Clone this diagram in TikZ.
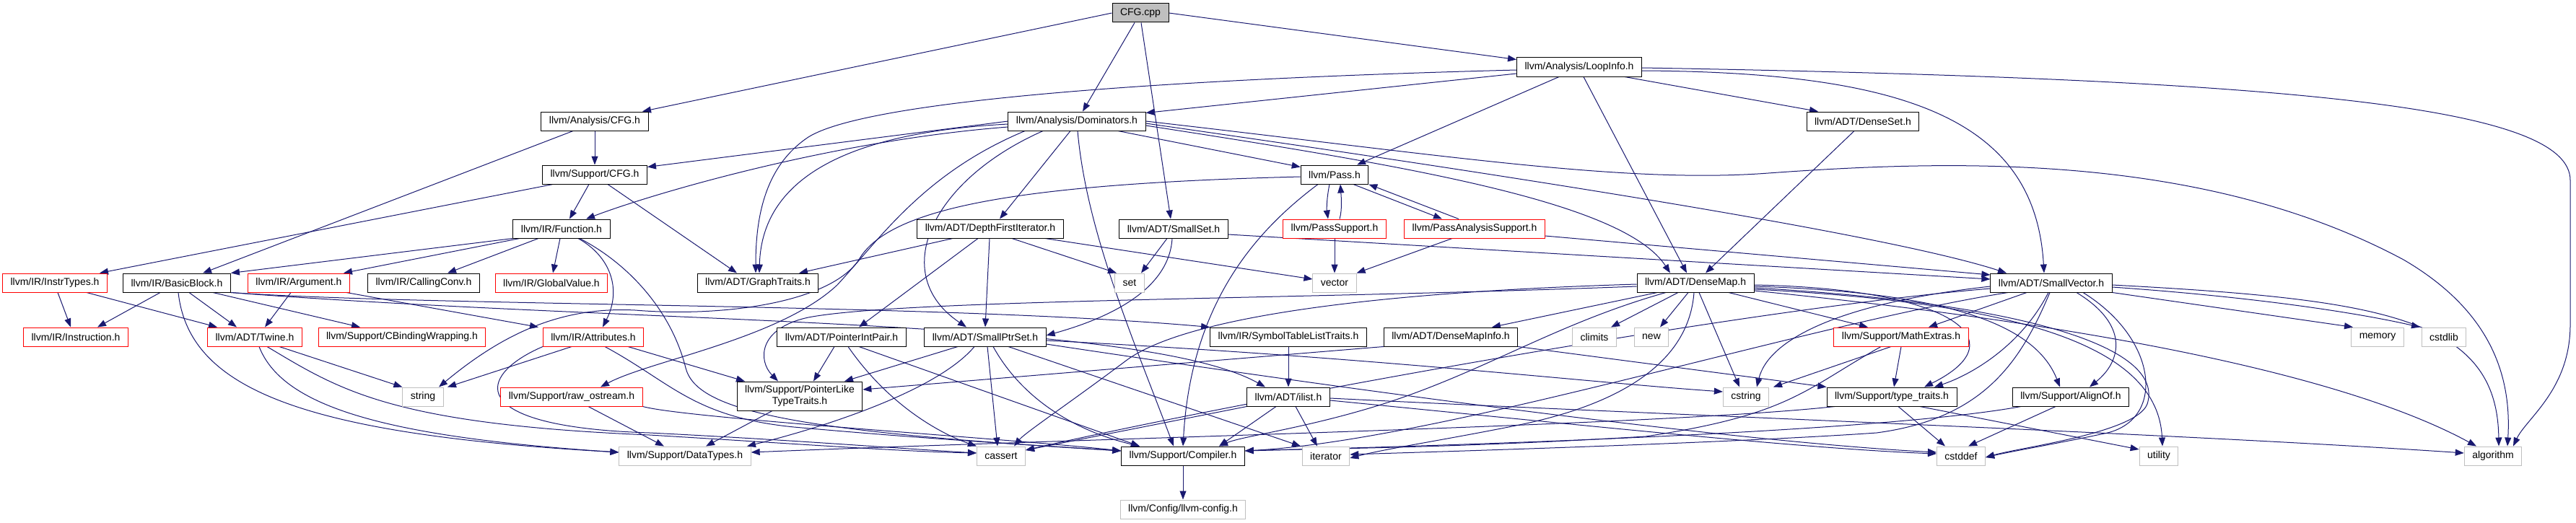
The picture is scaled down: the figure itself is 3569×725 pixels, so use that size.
\documentclass[tikz,border=0pt]{standalone}
\usepackage{fontspec}
\setmainfont{Liberation Sans}
\usetikzlibrary{arrows.meta,backgrounds}
\definecolor{edgeblue}{HTML}{191970}
\definecolor{grey75}{HTML}{BFBFBF}
\tikzset{
  box/.style={draw=black,fill=white,line width=1pt,inner xsep=11pt,inner ysep=0pt,minimum height=26pt,font=\fontsize{14}{16}\selectfont},
  redbox/.style={box,draw=red},
  sysbox/.style={box,draw=grey75},
  rootbox/.style={box,fill=grey75},
  edge/.style={edgeblue,line width=1pt,-{Triangle[length=12pt,width=9pt]}}
}
\begin{document}
\begin{tikzpicture}[x=1pt,y=-1pt]
\useasboundingbox (0,0) rectangle (3569,725);

\node[rootbox] (cpp) at (1580,18) {CFG.cpp};
\node[box] (acfg) at (824,168) {llvm/Analysis/CFG.h};
\node[box] (dom) at (1492,168) {llvm/Analysis/Dominators.h};
\node[box] (loop) at (2188,93) {llvm/Analysis/LoopInfo.h};
\node[box] (dset) at (2581,168) {llvm/ADT/DenseSet.h};
\node[box] (scfg) at (824,242) {llvm/Support/CFG.h};
\node[box] (pass) at (1849,242) {llvm/Pass.h};
\node[box] (func) at (778,317) {llvm/IR/Function.h};
\node[box] (dfi) at (1372,317) {llvm/ADT/DepthFirstIterator.h};
\node[box] (sset) at (1626,317) {llvm/ADT/SmallSet.h};
\node[redbox] (psup) at (1849,317) {llvm/PassSupport.h};
\node[redbox] (pas) at (2043,317) {llvm/PassAnalysisSupport.h};
\node[redbox] (itypes) at (76,392) {llvm/IR/InstrTypes.h};
\node[box] (bb) at (245,392) {llvm/IR/BasicBlock.h};
\node[redbox] (arg) at (414,392) {llvm/IR/Argument.h};
\node[box] (cc) at (587,392) {llvm/IR/CallingConv.h};
\node[redbox] (gv) at (764,392) {llvm/IR/GlobalValue.h};
\node[box] (gtr) at (1050,392) {llvm/ADT/GraphTraits.h};
\node[box] (dmap) at (2349,392) {llvm/ADT/DenseMap.h};
\node[box] (svec) at (2842,392) {llvm/ADT/SmallVector.h};
\node[redbox] (instr) at (105,467) {llvm/IR/Instruction.h};
\node[redbox] (twine) at (353,467) {llvm/ADT/Twine.h};
\node[redbox] (cbw) at (557,467) {llvm/Support/CBindingWrapping.h};
\node[redbox] (attr) at (822,467) {llvm/IR/Attributes.h};
\node[box] (pip) at (1166,467) {llvm/ADT/PointerIntPair.h};
\node[box] (sps) at (1365,467) {llvm/ADT/SmallPtrSet.h};
\node[box] (stlt) at (1785,467) {llvm/IR/SymbolTableListTraits.h};
\node[box] (dmi) at (2010,467) {llvm/ADT/DenseMapInfo.h};
\node[redbox] (mext) at (2634,467) {llvm/Support/MathExtras.h};
\node[redbox] (ros) at (792,550) {llvm/Support/raw\_ostream.h};
\node[box,align=center,minimum height=40pt] (pltt) at (1108,549) {llvm/Support/PointerLike\\TypeTraits.h};
\node[box] (ilist) at (1785,550) {llvm/ADT/ilist.h};
\node[box] (tt) at (2621,550) {llvm/Support/type\_traits.h};
\node[box] (align) at (2869,550) {llvm/Support/AlignOf.h};
\node[sysbox] (dtypes) at (949,632) {llvm/Support/DataTypes.h};
\node[box] (comp) at (1639,632) {llvm/Support/Compiler.h};
\node[sysbox] (config) at (1639,706) {llvm/Config/llvm-config.h};
\foreach \n/\x/\y in {set/1565/392,vector/1849/392,climits/2209/467,new/2288/467,memory/3294/467,cstdlib/3386/467,string/586/550,cstring/2419/550,cassert/1387/632,iterator/1837/632,cstddef/2717/632,utility/2991/632,algorithm/3454/632}
  \node[sysbox] (\n) at (\x,\y) {\n};

\begin{scope}[on background layer]
\draw[edge] (cpp.west) -- ([xshift=66pt]acfg.north);
\draw[edge] ([xshift=-8pt]cpp.south) -- ([xshift=8pt]dom.north);
\draw[edge] ([xshift=1pt]cpp.south) -- ([xshift=-4pt]sset.north);
\draw[edge] (cpp.east) -- ([yshift=-3pt]loop.north west);
\draw[edge] (acfg) -- (scfg);
\draw[edge] ([xshift=-30pt]acfg.south) -- ([xshift=36pt]bb.north);
\draw[edge] ([xshift=-8pt]scfg.south) -- ([xshift=11pt]func.north);
\draw[edge] ([xshift=-58pt]scfg.south) -- ([xshift=62pt]itypes.north);
\draw[edge] ([xshift=18pt]scfg.south) -- ([xshift=-29pt]gtr.north);
\draw[edge] (func.south west) -- (bb.north east);
\draw[edge] ([xshift=-58pt]func.south) -- ([xshift=62pt]arg.north);
\draw[edge] ([xshift=-32pt]func.south) -- ([xshift=33pt]cc.north);
\draw[edge] ([xshift=-2pt]func.south) -- ([xshift=2pt]gv.north);
\draw[edge] ([xshift=23pt]func.south) .. controls (845,355) and (862,400) .. ([xshift=13pt]attr.north);
\draw[edge] ([xshift=25pt]func.south) .. controls (870,365) and (930,430) .. (950,510) .. controls (965,570) and (1100,598) .. ([yshift=7pt]comp.west);
\draw[edge] ([xshift=4pt]itypes.south) -- ([xshift=-7pt]instr.north);
\draw[edge] ([xshift=44pt]itypes.south) -- ([xshift=-52pt]twine.north);
\draw[edge] ([xshift=-23pt]bb.south) -- ([xshift=30pt]instr.north);
\draw[edge] ([xshift=17pt]bb.south) -- ([xshift=-25pt]twine.north);
\draw[edge] ([xshift=50pt]bb.south) -- ([xshift=-58pt]cbw.north);
\draw[edge] ([xshift=2pt]bb.south) .. controls (262,540) and (420,602) .. ([yshift=5pt]dtypes.west);
\draw[edge] (bb.south east) .. controls (600,425) and (1300,420) .. (stlt.north west);
\draw[edge] (bb.south east) .. controls (900,450) and (1580,440) .. ([xshift=-32pt]ilist.north);
\draw[edge] ([xshift=-11pt]arg.south) -- ([xshift=14pt]twine.north);
\draw[edge] ([xshift=66pt]arg.south) -- ([xshift=-76pt]attr.north);
\draw[edge] ([xshift=34pt]twine.south) -- (string.north west);
\draw[edge] ([xshift=6pt]twine.south) .. controls (390,560) and (520,605) .. ([yshift=5pt]dtypes.west);
\draw[edge] ([xshift=17pt]twine.south) .. controls (470,540) and (540,588) .. (900,603) .. controls (1100,615) and (1250,626) .. ([yshift=4pt]cassert.west);
\draw[edge] ([xshift=-30pt]attr.south) -- ([xshift=34pt]string.north);
\draw[edge] ([xshift=48pt]attr.south) -- ([xshift=-76pt]pltt.north);
\draw[edge] ([xshift=-70pt]attr.south) .. controls (660,520) and (640,592) .. (900,600) .. controls (1100,610) and (1250,622) .. ([yshift=4pt]cassert.west);
\draw[edge] ([xshift=16pt]attr.south) .. controls (930,530) and (960,578) .. (1100,592) .. controls (1300,610) and (1450,618) .. ([yshift=7pt]comp.west);
\draw[edge] ([xshift=23pt]ros.south) -- ([xshift=-29pt]dtypes.north);
\draw[edge] (ros.south east) .. controls (950,580) and (1400,608) .. ([yshift=7pt]comp.west);
\draw[edge] (dom.west) -- ([yshift=-3pt]scfg.north east);
\draw[edge] ([yshift=-8pt]dom.west) .. controls (1150,195) and (900,270) .. ([xshift=34pt]func.north);
\draw[edge] ([yshift=-4pt]dom.west) .. controls (1150,185) and (1055,260) .. ([xshift=2pt]gtr.north);
\draw[edge] ([yshift=-4pt]loop.west) .. controls (1600,110) and (1200,140) .. (1120,190) .. controls (1060,230) and (1047,300) .. ([xshift=-3pt]gtr.north);
\draw[edge] ([xshift=-72pt]dom.south) .. controls (1280,240) and (1220,330) .. (1160,395) .. controls (1080,470) and (900,500) .. ([xshift=40pt]ros.north);
\draw[edge] ([xshift=-47pt]dom.south) .. controls (1290,250) and (1230,380) .. ([xshift=-26pt]sps.north);
\draw[edge] ([xshift=-9pt]dom.south) -- ([xshift=13pt]dfi.north);
\draw[edge] ([xshift=1pt]dom.south) .. controls (1505,320) and (1570,470) .. ([xshift=-13pt]comp.north);
\draw[edge] ([xshift=57pt]dom.south) -- ([yshift=-3pt]pass.north west);
\draw[edge] ([yshift=-6pt]dom.east) .. controls (1950,230) and (2250,280) .. ([xshift=-35pt]dmap.north);
\draw[edge] ([yshift=-3pt]dom.east) .. controls (2000,230) and (2600,320) .. ([xshift=-62pt]svec.north);
\draw[edge] (dom.east) .. controls (2000,215) and (2250,255) .. (2450,240) .. controls (2700,222) and (3050,210) .. (3330,360) .. controls (3450,430) and (3480,520) .. ([xshift=20pt]algorithm.north);
\draw[edge] ([yshift=-9pt]loop.west) -- ([yshift=-2pt]dom.north east);
\draw[edge] ([xshift=-28pt]loop.south) -- ([xshift=31pt]pass.north);
\draw[edge] ([xshift=6pt]loop.south) -- ([xshift=-12pt]dmap.north);
\draw[edge] ([xshift=63pt]loop.south) -- ([xshift=-62pt]dset.north);
\draw[edge] ([yshift=-5pt]loop.east) .. controls (2650,100) and (2820,170) .. ([xshift=-10pt]svec.north);
\draw[edge] ([yshift=-1pt]loop.east) .. controls (3200,110) and (3561,150) .. (3561,250) -- (3561,450) .. controls (3561,540) and (3500,580) .. ([xshift=28pt]algorithm.north);
\draw[edge] ([xshift=-12pt]dset.south) -- ([xshift=14pt]dmap.north);
\draw[edge] ([xshift=-7pt]pass.south) .. controls (1838,275) and (1838,290) .. ([xshift=-9pt]psup.north);
\draw[edge] ([xshift=7pt]psup.north) .. controls (1860,290) and (1858,270) .. ([xshift=8pt]pass.south);
\draw[edge] ([xshift=26pt]pass.south) -- ([xshift=-45pt]pas.north);
\draw[edge] ([xshift=-22pt]pas.north) -- (pass.south east);
\draw[edge] ([yshift=-3pt]pass.west) .. controls (1400,255) and (1230,290) .. (1190,360) .. controls (1150,420) and (1000,440) .. (880,430) .. controls (780,425) and (700,460) .. ([xshift=22pt]string.north);
\draw[edge] ([xshift=-23pt]pass.south) .. controls (1740,320) and (1650,420) .. (comp.north);
\draw[edge] ([xshift=-52pt]dfi.south) -- ([xshift=57pt]gtr.north);
\draw[edge] ([xshift=-17pt]dfi.south) -- ([xshift=24pt]pip.north);
\draw[edge] ([xshift=-1pt]dfi.south) -- (sps.north);
\draw[edge] ([xshift=30pt]dfi.south) -- ([xshift=-18pt]set.north);
\draw[edge] ([xshift=76pt]dfi.south) -- ([yshift=5pt]vector.west);
\draw[edge] ([xshift=-9pt]sset.south) -- ([xshift=16pt]set.north);
\draw[edge] ([xshift=-2pt]sset.south) .. controls (1620,400) and (1540,440) .. ([yshift=2pt]sps.east);
\draw[edge] ([yshift=-8pt]sset.east) -- ([yshift=5pt]svec.west);
\draw[edge] (psup) -- (vector);
\draw[edge] ([xshift=-31pt]pas.south) -- (vector.north east);
\draw[edge] ([yshift=-10pt]pas.east) -- ([yshift=11pt]svec.west);
\draw[edge] ([xshift=-53pt]dmap.south) -- ([xshift=57pt]dmi.north);
\draw[edge] ([xshift=-24pt]dmap.south) -- ([xshift=23pt]climits.north);
\draw[edge] ([xshift=-10pt]dmap.south) -- ([xshift=12pt]new.north);
\draw[edge] ([xshift=5pt]dmap.south) -- ([xshift=-9pt]cstring.north);
\draw[edge] ([xshift=46pt]dmap.south) -- ([xshift=-46pt]mext.north);
\draw[edge] ([yshift=-5pt]dmap.west) .. controls (1800,415) and (1250,415) .. (1120,440) .. controls (1050,455) and (1050,500) .. ([xshift=-30pt]pltt.north);
\draw[edge] ([xshift=-2pt]dmap.south) .. controls (2340,500) and (2250,560) .. (2100,590) .. controls (2000,610) and (1920,622) .. ([yshift=-3pt]iterator.east);
\draw[edge] ([yshift=-2pt]dmap.west) .. controls (1900,405) and (1640,440) .. (1560,500) .. controls (1480,560) and (1420,600) .. ([xshift=18pt]cassert.north);
\draw[edge] ([xshift=-41pt]dmap.south) .. controls (2150,450) and (2050,520) .. (1900,565) .. controls (1800,595) and (1720,605) .. ([xshift=50pt]comp.north);
\draw[edge] ([yshift=-3pt]dmap.east) .. controls (2700,400) and (2800,470) .. ([xshift=45pt]tt.north);
\draw[edge] ([yshift=-5pt]dmap.east) .. controls (2700,405) and (2820,450) .. ([xshift=-15pt]align.north);
\draw[edge] ([yshift=-7pt]dmap.east) .. controls (2800,420) and (3000,480) .. (2975,560) .. controls (2960,600) and (2800,620) .. ([yshift=-2pt]cstddef.east);
\draw[edge] ([yshift=-9pt]dmap.east) .. controls (2800,420) and (2990,480) .. ([xshift=5pt]utility.north);
\draw[edge] ([yshift=-11pt]dmap.east) .. controls (2900,450) and (3250,520) .. ([xshift=-23pt]algorithm.north);
\draw[edge] ([xshift=-34pt]svec.south) -- ([xshift=38pt]mext.north);
\draw[edge] ([yshift=-5pt]svec.west) .. controls (2550,420) and (2450,470) .. ([xshift=15pt]cstring.north);
\draw[edge] ([yshift=-8pt]svec.west) .. controls (2400,430) and (1700,560) .. ([yshift=8pt]cassert.east);
\draw[edge] ([xshift=-2pt]svec.south) .. controls (2800,500) and (2750,580) .. (2600,600) .. controls (2400,614) and (2000,626) .. ([yshift=2pt]iterator.east);
\draw[edge] ([xshift=-60pt]svec.south) .. controls (2500,450) and (2000,610) .. ([yshift=7pt]comp.east);
\draw[edge] ([xshift=44pt]svec.south) .. controls (2990,470) and (3000,580) .. (2920,600) .. controls (2850,615) and (2790,625) .. ([yshift=-2pt]cstddef.east);
\draw[edge] ([xshift=-4pt]svec.south) .. controls (2800,480) and (2730,520) .. ([xshift=59pt]tt.north);
\draw[edge] ([xshift=35pt]svec.south) .. controls (2950,450) and (2940,500) .. ([xshift=26pt]align.north);
\draw[edge] (svec.south east) -- ([xshift=-34pt]memory.north);
\draw[edge] ([yshift=-6pt]svec.east) .. controls (3100,410) and (3250,430) .. ([xshift=-33pt]cstdlib.north);
\draw[edge] ([yshift=-3pt]svec.east) .. controls (3300,415) and (3460,440) .. ([xshift=8pt]algorithm.north);
\draw[edge] ([xshift=-14pt]mext.south) -- ([xshift=38pt]cstring.north);
\draw[edge] (mext.south) -- ([xshift=3pt]tt.north);
\draw[edge] ([xshift=-28pt]mext.south) .. controls (2500,540) and (2480,575) .. (2280,605) .. controls (2000,622) and (1800,622) .. ([yshift=7pt]comp.east);
\draw[edge] ([xshift=-79pt]tt.south) .. controls (2300,590) and (1500,608) .. ([yshift=5pt]dtypes.east);
\draw[edge] ([xshift=9pt]tt.south) -- ([xshift=-22pt]cstddef.north);
\draw[edge] ([xshift=39pt]tt.south) -- ([yshift=9pt]utility.west);
\draw[edge] ([xshift=-21pt]align.south) -- ([xshift=10pt]cstddef.north);
\draw[edge] ([xshift=-69pt]align.south) .. controls (2600,600) and (2000,618) .. ([yshift=7pt]comp.east);
\draw[edge] ([xshift=-17pt]ilist.south) -- ([xshift=50pt]comp.north);
\draw[edge] ([xshift=10pt]ilist.south) -- ([xshift=-12pt]iterator.north);
\draw[edge] (ilist.south west) -- ([yshift=8pt]cassert.east);
\draw[edge] ([yshift=-5pt]ilist.east) .. controls (2200,590) and (2500,622) .. ([yshift=3pt]cstddef.west);
\draw[edge] ([yshift=-2pt]ilist.east) .. controls (2300,575) and (3000,600) .. ([yshift=4pt]algorithm.west);
\draw[edge] ([xshift=-38pt]sps.south) -- ([xshift=62pt]pltt.north);
\draw[edge] ([xshift=-15pt]sps.south) .. controls (1300,540) and (1150,590) .. ([xshift=86pt]dtypes.north);
\draw[edge] ([xshift=3pt]sps.south) -- ([xshift=-5pt]cassert.north);
\draw[edge] ([xshift=11pt]sps.south) .. controls (1420,560) and (1500,600) .. ([xshift=-60pt]comp.north);
\draw[edge] ([xshift=32pt]sps.south) -- ([xshift=-35pt]iterator.north);
\draw[edge] ([yshift=-5pt]sps.east) .. controls (1900,495) and (2200,530) .. ([yshift=7pt]cstring.west);
\draw[edge] ([yshift=-10pt]sps.east) .. controls (2000,560) and (2450,615) .. ([yshift=5pt]cstddef.west);
\draw[edge] ([xshift=-10pt]pip.south) -- ([xshift=19pt]pltt.north);
\draw[edge] ([xshift=9pt]pip.south) .. controls (1230,560) and (1300,600) .. (cassert.north west);
\draw[edge] ([xshift=24pt]pip.south) -- ([xshift=-60pt]comp.north);
\draw[edge] ([xshift=-38pt]pltt.south) -- ([xshift=29pt]dtypes.north);
\draw[edge] (stlt) -- (ilist);
\draw[edge] (dmi.south west) -- ([yshift=9pt]pltt.east);
\draw[edge] (dmi.south east) -- (tt.north west);
\draw[edge] (comp) -- (config);
\end{scope}
\end{tikzpicture}
\end{document}
